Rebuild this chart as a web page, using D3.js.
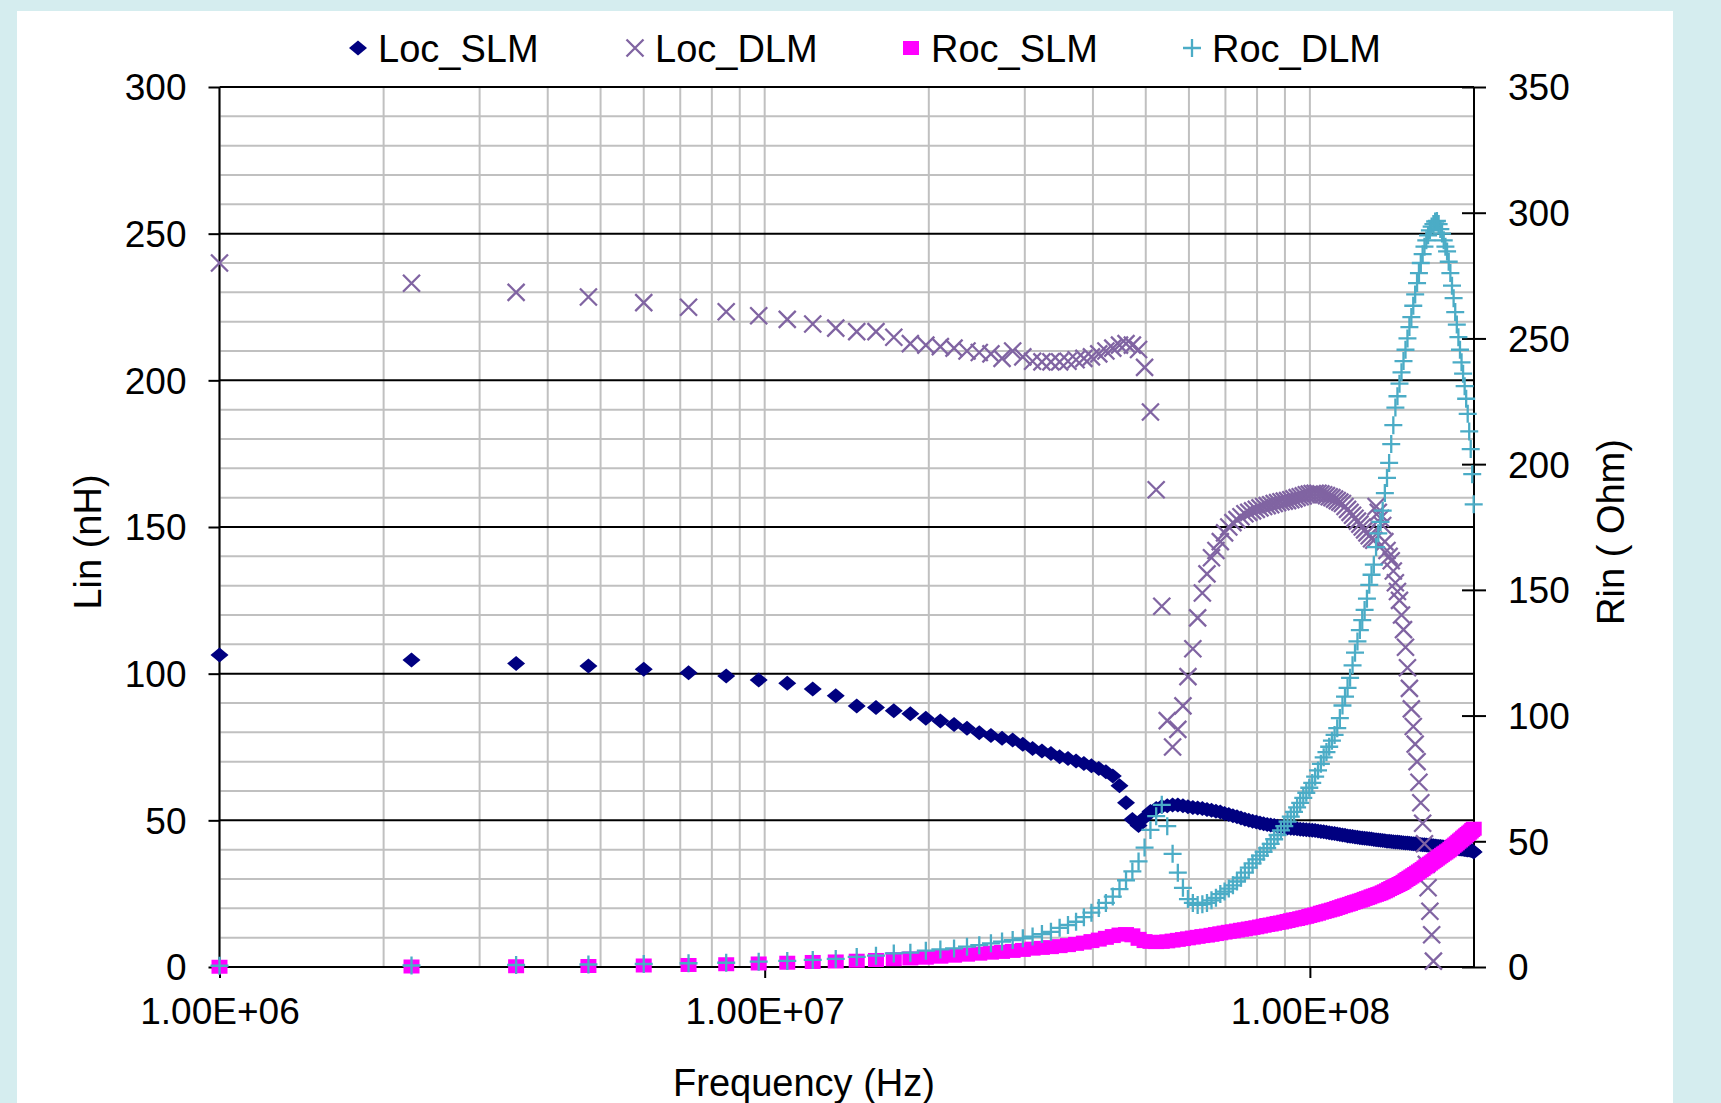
<!DOCTYPE html>
<html>
<head>
<meta charset="utf-8">
<script src="https://cdn.jsdelivr.net/npm/d3@7"></script>
<style>
  html, body { margin: 0; padding: 0; background: #d5edef; }
  svg { display: block; }
  text { font-family: 'Liberation Sans', Arial, sans-serif; fill: #000; }
</style>
</head>
<body>
<div id="chart-area"></div>
<script>
// Frequency sweep (MHz) and the four measured series
const freqMHz = [
  1, 2.25, 3.5, 4.75, 6, 7.25, 8.5, 9.75, 11, 12.25,
  13.5, 14.75, 16, 17.25, 18.5, 19.75, 21, 22.25, 23.5, 24.75,
  26, 27.25, 28.5, 29.75, 31, 32.25, 33.5, 34.75, 36, 37.25,
  38.5, 39.75, 41, 42.25, 43.5, 44.75, 46, 47.25, 48.5, 49.75,
  51, 52.25, 53.5, 54.75, 56, 57.25, 58.5, 59.75, 61, 62.25,
  63.5, 64.75, 66, 67.25, 68.5, 69.75, 71, 72.25, 73.5, 74.75,
  76, 77.25, 78.5, 79.75, 81, 82.25, 83.5, 84.75, 86, 87.25,
  88.5, 89.75, 91, 92.25, 93.5, 94.75, 96, 97.25, 98.5, 99.75,
  101, 102.25, 103.5, 104.75, 106, 107.25, 108.5, 109.75, 111, 112.25,
  113.5, 114.75, 116, 117.25, 118.5, 119.75, 121, 122.25, 123.5, 124.75,
  126, 127.25, 128.5, 129.75, 131, 132.25, 133.5, 134.75, 136, 137.25,
  138.5, 139.75, 141, 142.25, 143.5, 144.75, 146, 147.25, 148.5, 149.75,
  151, 152.25, 153.5, 154.75, 156, 157.25, 158.5, 159.75, 161, 162.25,
  163.5, 164.75, 166, 167.25, 168.5, 169.75, 171, 172.25, 173.5, 174.75,
  176, 177.25, 178.5, 179.75, 181, 182.25, 183.5, 184.75, 186, 187.25,
  188.5, 189.75, 191, 192.25, 193.5, 194.75, 196, 197.25, 198.5, 199.75
];

// Lin (nH), left axis
const locSLM = [
  106.4, 104.7, 103.5, 102.6, 101.5, 100.3, 99.2, 97.8, 96.7, 94.8,
  92.5, 89, 88.5, 87.4, 86.3, 84.8, 83.9, 82.7, 81.4, 79.9,
  78.9, 78, 77.4, 75.9, 74.5, 73.6, 72.8, 71.7, 71.1, 70.2,
  69.4, 68.6, 67.7, 66.6, 65.1, 61.8, 56, 50.3, 48.2, 51,
  53, 54, 54.7, 55, 55.2, 55.2, 55, 54.6, 54.4, 54.2,
  54, 53.7, 53.4, 53.1, 52.8, 52.3, 52, 51.6, 51.2, 50.8,
  50.4, 50, 49.7, 49.4, 49.1, 48.8, 48.6, 48.4, 48.2, 48,
  47.8, 47.6, 47.4, 47.3, 47.2, 47.1, 47, 46.9, 46.8, 46.7,
  46.6, 46.5, 46.4, 46.2, 46.1, 45.9, 45.8, 45.6, 45.5, 45.3,
  45.2, 45, 44.9, 44.7, 44.6, 44.5, 44.3, 44.2, 44.1, 44,
  43.9, 43.8, 43.7, 43.6, 43.5, 43.4, 43.3, 43.2, 43.1, 43,
  42.9, 42.85, 42.8, 42.7, 42.65, 42.6, 42.5, 42.45, 42.4, 42.3,
  42.25, 42.2, 42.1, 42.05, 42, 41.9, 41.85, 41.8, 41.7, 41.65,
  41.6, 41.5, 41.45, 41.4, 41.3, 41.25, 41.2, 41.1, 41.05, 41,
  40.9, 40.85, 40.8, 40.7, 40.65, 40.6, 40.5, 40.45, 40.4, 40.3,
  40.25, 40.2, 40.1, 40.05, 40, 39.9, 39.85, 39.8, 39.6, 39.2
];

// Lin (nH), left axis - values past 168.5 MHz fall below 0 and are not shown
const locDLM = [
  240, 233.1, 230, 228.4, 226.5, 224.9, 223.4, 222, 220.8, 219.2,
  217.8, 216.6, 216.6, 214.7, 212.5, 212, 211.5, 211, 210, 209.5,
  209, 207.5, 210, 208, 206.5, 206.3, 206.3, 206.3, 206.5, 207,
  207.5, 208, 209, 210, 211, 212, 212.5, 212, 210.5, 204.4,
  189.2, 162.7, 123, 84, 75, 81, 89, 99, 108.5, 119,
  127.5, 134, 139.5, 142, 145, 148, 150, 151.5, 152.5, 153.5,
  154.5, 155, 155.5, 156, 156.5, 157, 157.3, 157.6, 158, 158.3,
  158.6, 158.8, 159, 159.3, 159.6, 160, 160.3, 160.6, 161, 161.2,
  161.4, 161.5, 161.5, 161.3, 161, 160.7, 160.3, 160, 159.5, 159,
  158.5, 158, 157, 156, 155, 154, 153, 152, 151, 150,
  149, 148, 147, 146, 145.5, 157, 155, 153, 150.5, 145,
  142, 140, 138.5, 135, 131, 128, 125, 120, 115, 109,
  102, 95, 88, 82, 76, 70, 63, 56, 49, 42,
  35, 27, 19, 11, 2
];

// Rin (Ohm), right axis
const rocSLM = [
  0.1, 0.2, 0.3, 0.4, 0.6, 0.8, 1.1, 1.4, 1.7, 2.0,
  2.2, 2.5, 2.8, 3.1, 3.4, 3.7, 4.1, 4.5, 4.9, 5.3,
  5.7, 6.0, 6.4, 6.8, 7.3, 7.6, 7.9, 8.3, 8.7, 9.2,
  9.7, 10.3, 10.9, 11.6, 12.3, 12.9, 13.1, 12.6, 11.2, 10.3,
  10.0, 9.9, 10.0, 10.2, 10.5, 10.8, 11.1, 11.4, 11.7, 12.0,
  12.3, 12.5, 12.8, 13.1, 13.4, 13.7, 14.0, 14.2, 14.5, 14.8,
  15.0, 15.3, 15.55, 15.8, 16.1, 16.4, 16.7, 16.9, 17.2, 17.5,
  17.7, 18.0, 18.3, 18.6, 18.9, 19.1, 19.4, 19.7, 19.95, 20.3,
  20.6, 20.9, 21.2, 21.6, 21.9, 22.2, 22.5, 22.8, 23.1, 23.5,
  23.8, 24.2, 24.5, 24.8, 25.1, 25.5, 25.8, 26.1, 26.4, 26.7,
  27.1, 27.4, 27.7, 28.1, 28.4, 28.7, 29.0, 29.3, 29.7, 30.1,
  30.5, 31.0, 31.4, 31.8, 32.2, 32.6, 33.0, 33.4, 33.9, 34.5,
  35.0, 35.5, 36.0, 36.5, 37.0, 37.5, 38.0, 38.5, 39.0, 39.6,
  40.1, 40.6, 41.1, 41.6, 42.1, 42.6, 43.1, 43.6, 44.1, 44.6,
  45.1, 45.5, 46.0, 46.4, 47.0, 47.6, 48.2, 48.7, 49.2, 49.8,
  50.3, 50.8, 51.4, 51.9, 52.4, 52.9, 53.4, 53.9, 54.5, 55.0
];

// Rin (Ohm), right axis
const rocDLM = [
  0.5, 0.6, 0.8, 1.0, 1.2, 1.5, 1.7, 2.1, 2.4, 2.8,
  3.2, 4.0, 4.5, 5.4, 5.7, 6.5, 7.0, 7.4, 8.1, 8.7,
  9.4, 10.1, 10.7, 11.4, 12.1, 13.1, 14.0, 15.6, 16.7, 18.0,
  19.8, 21.6, 23.5, 25.5, 28, 31, 34.5, 38, 42, 47.5,
  54.5, 60, 64.5, 56, 45, 37.5, 31.5, 27, 25.5, 24.7,
  25, 25.5, 26.5, 27.5, 29, 30, 31.2, 32.5, 34, 35.5,
  37.5, 39.5, 41.2, 42.8, 44.3, 45.8, 47.3, 49, 50.8, 52.5,
  54.3, 56, 57.8, 59.8, 61.7, 63.5, 65.3, 67.3, 69.3, 71.3,
  73.2, 75.7, 78.2, 80.8, 83.4, 85.5, 87.6, 90, 92.3, 95,
  99, 104, 107.5, 111, 115, 120, 125, 129.5, 134, 138,
  142, 146.5, 152, 156, 160, 167, 172.5, 177, 181.5, 188.5,
  194.5, 200.5, 208, 215.5, 222.5, 227, 232, 236.5, 241, 245.5,
  250, 254.5, 258.5, 263, 267.5, 272, 276, 280, 283.5, 286.5,
  289, 291, 293, 294.5, 295.5, 296.5, 296.7, 295.5, 293.5, 291.7,
  289, 286.5, 284.6, 280.5, 276, 271, 266, 260.5, 255.5, 250.5,
  245.5, 240.5, 236, 231, 226, 220, 213, 206, 196, 184
];

const seriesNames = ['Loc_SLM', 'Loc_DLM', 'Roc_SLM', 'Roc_DLM'];
const leftTicks = [0, 50, 100, 150, 200, 250, 300];
const rightTicks = [0, 50, 100, 150, 200, 250, 300, 350];
const xTickValues = [1e6, 1e7, 1e8];
const xTickLabels = ['1.00E+06', '1.00E+07', '1.00E+08'];

const maxWidth = 1721;
const maxHeight = 1103;
const margin = { left: 219.5, right: 247, top: 87, bottom: 136 };
const chartWidth = maxWidth - margin.left - margin.right;
const chartHeight = maxHeight - margin.top - margin.bottom;

const colors = {
    Loc_SLM: '#000080',
    Loc_DLM: '#8064a2',
    Roc_SLM: '#ff00ff',
    Roc_DLM: '#4bacc6'
};

const svg = d3.select('#chart-area')
    .append('svg')
    .attr('width', maxWidth)
    .attr('height', maxHeight);

// white panel on the cyan page
svg.append('rect')
    .attr('x', 17)
    .attr('y', 11)
    .attr('width', 1656)
    .attr('height', maxHeight - 11)
    .attr('fill', '#fff');

const chartGroup = svg.append('g')
    .attr('transform', `translate(${margin.left}, ${margin.top})`);

// Scales
const x = d3.scaleLog()
    .domain([1e6, 2e8])
    .range([0, chartWidth]);

const yLeft = d3.scaleLinear()
    .domain([0, 300])
    .range([chartHeight, 0]);

const yRight = d3.scaleLinear()
    .domain([0, 350])
    .range([chartHeight, 0]);

// Gridlines
const gridGroup = chartGroup.append('g').attr('class', 'grid');

gridGroup.selectAll('.vgrid')
    .data(x.ticks())
    .enter()
    .append('line')
    .attr('class', 'vgrid')
    .attr('x1', (d) => x(d))
    .attr('x2', (d) => x(d))
    .attr('y1', 0)
    .attr('y2', chartHeight)
    .attr('stroke', '#c0c0c0')
    .attr('stroke-width', 2);

gridGroup.selectAll('.hminor')
    .data(d3.range(0, 301, 10).filter((d) => d % 50 !== 0))
    .enter()
    .append('line')
    .attr('class', 'hminor')
    .attr('x1', 0)
    .attr('x2', chartWidth)
    .attr('y1', (d) => yLeft(d))
    .attr('y2', (d) => yLeft(d))
    .attr('stroke', '#c0c0c0')
    .attr('stroke-width', 2);

gridGroup.selectAll('.hmajor')
    .data(leftTicks)
    .enter()
    .append('line')
    .attr('class', 'hmajor')
    .attr('x1', 0)
    .attr('x2', chartWidth)
    .attr('y1', (d) => yLeft(d))
    .attr('y2', (d) => yLeft(d))
    .attr('stroke', '#000')
    .attr('stroke-width', 2);

// Axes
const xAxisCall = d3.axisBottom(x)
    .tickValues(xTickValues)
    .tickFormat((d, i) => xTickLabels[i])
    .tickSize(11)
    .tickPadding(20);

const xAxisGroup = chartGroup.append('g')
    .attr('class', 'x-axis')
    .attr('transform', `translate(0, ${chartHeight})`)
    .call(xAxisCall);

const yAxisCall = d3.axisLeft(yLeft)
    .tickValues(leftTicks)
    .tickSize(11)
    .tickPadding(22);

const yAxisGroup = chartGroup.append('g')
    .attr('class', 'y-axis')
    .call(yAxisCall);

const yRightCall = d3.axisRight(yRight)
    .tickValues(rightTicks)
    .tickSize(12)
    .tickPadding(22);

const yRightGroup = chartGroup.append('g')
    .attr('class', 'y-axis-right')
    .attr('transform', `translate(${chartWidth}, 0)`)
    .call(yRightCall);

// right axis ticks cross the axis line
yRightGroup.selectAll('.tick line').attr('x1', -12);

[xAxisGroup, yAxisGroup, yRightGroup].forEach((g) => {
    g.select('.domain').attr('stroke', '#000').attr('stroke-width', 2);
    g.selectAll('.tick line').attr('stroke', '#000').attr('stroke-width', 2);
    g.selectAll('.tick text')
        .attr('font-size', '37px')
        .attr('font-family', "'Liberation Sans', Arial, sans-serif")
        .attr('fill', '#000');
});
yAxisGroup.selectAll('.tick text').attr('dy', '0.35em');
yRightGroup.selectAll('.tick text').attr('dy', '0.35em');
xAxisGroup.selectAll('.tick text').attr('dy', '0.71em');
xAxisGroup.select('.domain').attr('d', `M0,0H${chartWidth}`);
yAxisGroup.select('.domain').attr('d', `M0,0V${chartHeight}`);
yRightGroup.select('.domain').attr('d', `M0,0V${chartHeight}`);

// Labels
svg.append('text')
    .attr('class', 'x-axis-label')
    .attr('font-size', '38px')
    .attr('text-anchor', 'middle')
    .attr('x', 804)
    .attr('y', 1096)
    .text('Frequency (Hz)');

svg.append('text')
    .attr('class', 'y-axis-label')
    .attr('font-size', '38px')
    .attr('text-anchor', 'middle')
    .attr('transform', 'translate(101, 542) rotate(-90)')
    .text('Lin (nH)');

svg.append('text')
    .attr('class', 'y-axis-label-right')
    .attr('font-size', '38px')
    .attr('text-anchor', 'middle')
    .attr('transform', 'translate(1624, 532) rotate(-90)')
    .text('Rin ( Ohm)');

// Marker drawers
const markers = {
    Loc_SLM: (g, color) => g.append('path')
        .attr('d', 'M0,-7.5L9,0L0,7.5L-9,0Z')
        .attr('fill', color),
    Loc_DLM: (g, color) => g.append('path')
        .attr('d', 'M-8.5,-8.5L8.5,8.5M-8.5,8.5L8.5,-8.5')
        .attr('stroke', color)
        .attr('stroke-width', 2.3)
        .attr('fill', 'none'),
    Roc_SLM: (g, color) => g.append('rect')
        .attr('x', -8)
        .attr('y', -7)
        .attr('width', 16)
        .attr('height', 14)
        .attr('fill', color),
    Roc_DLM: (g, color) => g.append('path')
        .attr('d', 'M-9,0H9M0,-9V9')
        .attr('stroke', color)
        .attr('stroke-width', 2.3)
        .attr('fill', 'none')
};

const seriesData = [
    { name: 'Loc_SLM', values: locSLM, scale: yLeft },
    { name: 'Loc_DLM', values: locDLM, scale: yLeft },
    { name: 'Roc_SLM', values: rocSLM, scale: yRight },
    { name: 'Roc_DLM', values: rocDLM, scale: yRight }
];

seriesData.forEach((series) => {
    const points = series.values.map((v, i) => ({ f: freqMHz[i] * 1e6, v }));
    const group = chartGroup.append('g').attr('class', 'series');
    group.selectAll('g')
        .data(points)
        .enter()
        .append('g')
        .attr('transform', (d) => `translate(${x(d.f)}, ${series.scale(d.v)})`)
        .each(function () {
            markers[series.name](d3.select(this), colors[series.name]);
        });
});

// Legend
const legendX = [358, 635, 911, 1192];
const legend = svg.append('g').attr('class', 'legend');

seriesNames.forEach((name, i) => {
    const legendRow = legend.append('g')
        .attr('transform', `translate(${legendX[i]}, 48)`);

    markers[name](legendRow, colors[name]);

    legendRow.append('text')
        .attr('x', 20)
        .attr('y', 14)
        .attr('font-size', '38px')
        .text(name);
});
</script>
</body>
</html>
